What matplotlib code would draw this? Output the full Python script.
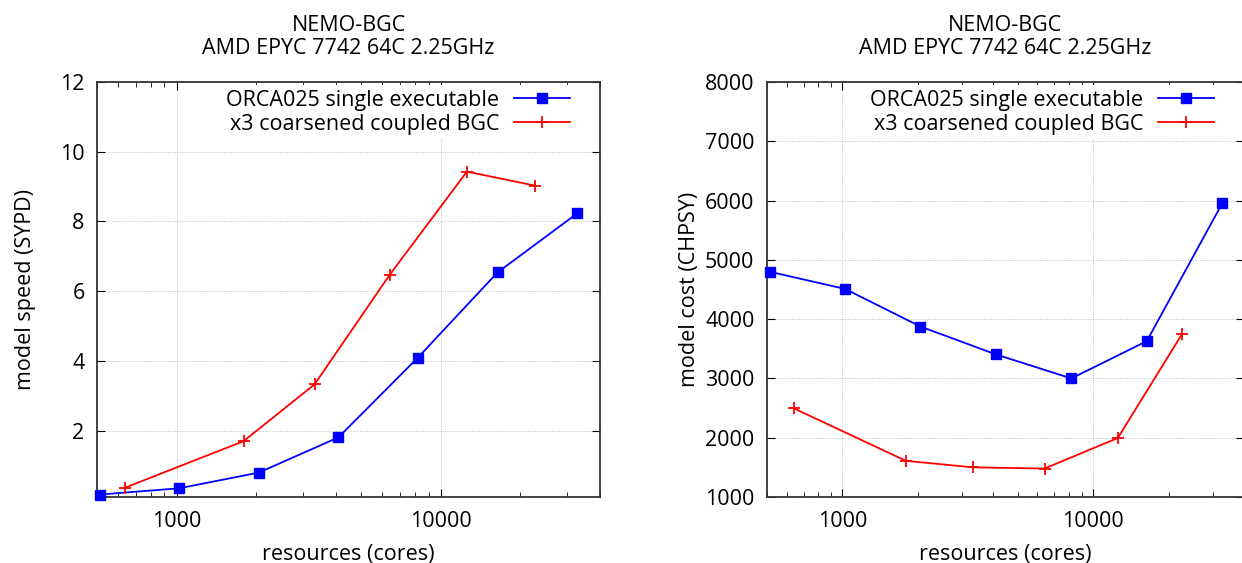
import numpy as np
import matplotlib
matplotlib.use("Agg")
import matplotlib.pyplot as plt
from matplotlib.ticker import FixedLocator, NullFormatter, LogLocator

plt.rcParams['font.family'] = ['Open Sans', 'DejaVu Sans']

# dados
blue_cores = [512, 1024, 2048, 4096, 8192, 16384, 32768]
blue_speed = [0.17, 0.35, 0.80, 1.81, 4.10, 6.54, 8.23]
blue_cost = [4800, 4510, 3875, 3405, 3000, 3630, 5955]

red_cores = [640, 1792, 3328, 6400, 12544, 22656]
red_speed = [0.37, 1.70, 3.33, 6.47, 9.43, 9.03]
red_cost = [2495, 1610, 1500, 1480, 1995, 3750]

blue_label = "ORCA025 single executable"
red_label = "x3 coarsened coupled BGC"
titulo = "NEMO-BGC\nAMD EPYC 7742 64C 2.25GHz"

W, H = 1242, 563
fig = plt.figure(figsize=(W / 100, H / 100), dpi=100)

ax1 = fig.add_axes([97 / W, 1 - 497 / H, 503 / W, 415 / H])
ax2 = fig.add_axes([767 / W, 1 - 497 / H, 477 / W, 415 / H])


def estilo(ax):
    ax.set_xscale("log")
    ax.set_xlim(500, 40000)
    ax.xaxis.set_major_locator(FixedLocator([1000, 10000]))
    ax.xaxis.set_minor_locator(LogLocator(base=10, subs=np.arange(2, 10)))
    ax.xaxis.set_minor_formatter(NullFormatter())
    ax.set_xticklabels(["1000", "10000"])
    ax.tick_params(which="both", direction="in", top=True, right=True,
                   labelsize=15.5, colors="black")
    ax.tick_params(which="major", length=6, width=0.8)
    ax.tick_params(which="minor", length=3.5, width=0.6)
    ax.tick_params(axis="x", pad=10)
    ax.tick_params(axis="y", pad=9)
    ax.grid(True, which="major", linestyle=(0, (1, 1.5)), color="#bdbdbd", linewidth=0.7)
    ax.set_axisbelow(True)
    for s in ax.spines.values():
        s.set_linewidth(1.3)
        s.set_color("#333333")
    ax.set_title(titulo, fontsize=15.5, pad=20, linespacing=1.15)
    ax.set_xlabel("resources (cores)", fontsize=15.5)
    ax.xaxis.set_label_coords(0.5, -0.113)


for ax in (ax1, ax2):
    estilo(ax)

ax1.plot(blue_cores, blue_speed, color="blue", lw=1.3, marker="s", ms=7,
         label=blue_label, clip_on=False, zorder=3)
ax1.plot(red_cores, red_speed, color="red", lw=1.3, marker="+", ms=9, mew=1.3,
         label=red_label, clip_on=False, zorder=3)
ax1.set_ylim(0.1, 12)
ax1.set_yticks([2, 4, 6, 8, 10, 12])
ax1.set_ylabel("model speed (SYPD)", fontsize=15.5)
ax1.yaxis.set_label_coords(-0.122, 0.5)

ax2.plot(blue_cores, blue_cost, color="blue", lw=1.3, marker="s", ms=7,
         label=blue_label, clip_on=False, zorder=3)
ax2.plot(red_cores, red_cost, color="red", lw=1.3, marker="+", ms=9, mew=1.3,
         label=red_label, clip_on=False, zorder=3)
ax2.set_ylim(1000, 8000)
ax2.set_yticks(range(1000, 8001, 1000))
ax2.set_ylabel("model cost (CHPSY)", fontsize=15.5)
ax2.yaxis.set_label_coords(-0.14, 0.5)

for ax, w in ((ax1, 503), (ax2, 477)):
    leg = ax.legend(loc="upper right", bbox_to_anchor=(1 - 22 / w, 1.0),
                    markerfirst=False, fontsize=15.5, handlelength=2.6,
                    handletextpad=0.7, labelspacing=0.15, borderpad=0.2,
                    borderaxespad=0.15, frameon=True, fancybox=False)
    leg.get_frame().set_facecolor("white")
    leg.get_frame().set_edgecolor("none")
    leg.get_frame().set_alpha(1)

plt.savefig("out.png", dpi=100)
